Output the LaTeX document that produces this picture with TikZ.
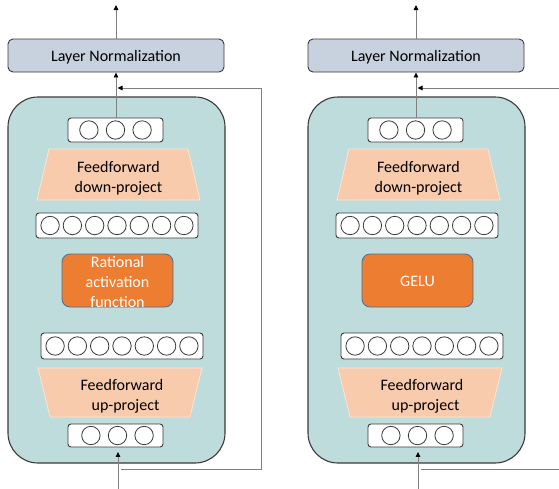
\documentclass[tikz,border=0pt]{standalone}
\usepackage{fontspec}
\setmainfont{Carlito}
\usetikzlibrary{arrows.meta}
\definecolor{panelfill}{HTML}{BFDCDC}
\definecolor{lnfill}{HTML}{C8D1DE}
\definecolor{ffill}{HTML}{F8CBAD}
\definecolor{fdraw}{HTML}{FBE5D6}
\definecolor{actfill}{HTML}{ED7D31}
\definecolor{actdraw}{HTML}{41719C}
\definecolor{linegray}{HTML}{7F7F7F}
\definecolor{boxdraw}{HTML}{3A3A3A}
\tikzset{
  panelbox/.style={draw=boxdraw, line width=1.1pt, fill=panelfill, rounded corners=30pt, minimum width=217pt, minimum height=366pt, inner sep=0pt},
  lnbox/.style={draw=boxdraw, line width=0.9pt, fill=lnfill, rounded corners=5pt, minimum width=216pt, minimum height=33pt, inner sep=0pt},
  cellbox/.style={draw=boxdraw, line width=0.9pt, fill=white, rounded corners=3pt, inner sep=0pt},
  actbox/.style={draw=actdraw, line width=0.8pt, fill=actfill, rounded corners=8pt, minimum width=111pt, minimum height=53pt, inner sep=0pt},
  trap/.style={fill=ffill, draw=fdraw, line width=0.8pt},
  cell/.style={draw=boxdraw, line width=0.8pt, fill=white},
  conn/.style={draw=linegray, line width=0.9pt, -{Triangle[length=5pt,width=4.5pt,black]}},
  txt/.style={align=center, inner sep=0pt, text=black},
  wtxt/.style={align=center, inner sep=0pt, text=white},
}
\newcommand\adapterpanel[3]{%
\begin{scope}[shift={(#2,0)}]
  \node[panelbox] (#1body) at (116.5,280) {};
  \node[lnbox] (#1ln) at (116,55.5) {};
  \node[txt] (#1lntext) at (116,57) {Layer Normalization};
  % top 3 cells
  \node[cellbox, minimum width=95pt, minimum height=24pt] (#1top3) at (115.5,130) {};
  \foreach \k in {-1,0,1} \draw[cell] (115.5+26.6*\k,130) circle (9.2pt);
  % down-project
  \path[trap] (49,149) -- (188,149) -- (200,200) -- (37,200) -- cycle;
  \node[txt] (#1down) at (118.5,178) {Feedforward\\down-project};
  % upper 7 cells
  \node[cellbox, minimum width=162pt, minimum height=25pt] (#1mid7a) at (117,225.5) {};
  \foreach \k in {-3,...,3} \draw[cell] (117+22.3*\k,225.5) circle (9.2pt);
  % activation
  \node[actbox] (#1act) at (117.5,280.5) {};
  \node[wtxt] (#1acttext) at (117.5,281.5) {#3};
  % lower 7 cells
  \node[cellbox, minimum width=162pt, minimum height=26pt] (#1mid7b) at (122,346) {};
  \foreach \k in {-3,...,3} \draw[cell] (122+22.3*\k,346) circle (9.2pt);
  % up-project
  \path[trap] (38,368) -- (202,368) -- (190,417) -- (50,417) -- cycle;
  \node[txt] (#1up) at (122,396) {Feedforward\\\hspace*{7pt}up-project};
  % bottom 3 cells
  \node[cellbox, minimum width=95pt, minimum height=23pt] (#1bot3) at (115.5,435.5) {};
  \foreach \k in {-1,0,1} \draw[cell] (117.5+26.6*\k,435.5) circle (9.2pt);
  % connectors
  \coordinate (#1out) at (116,5);
  \coordinate (#1in) at (118,490);
  \coordinate (#1join) at (116,88);
  \coordinate (#1rs) at (121,469);
  \draw[conn] (#1ln.north -| #1out) -- (#1out);
  \draw[conn] (#1top3.north -| #1out) -- (#1ln.south -| #1out);
  \draw[conn, shorten >=4.5pt] (#1in) -- (#1in |- #1bot3.south);
  \draw[conn, shorten >=1.5pt] (#1rs) -- ++(140,0) |- (#1join);
\end{scope}}
\begin{document}
\begin{tikzpicture}[x=1pt, y=-1pt, font=\fontsize{16}{20}\selectfont]
\useasboundingbox (0,0) rectangle (559,488);
\clip (0,0) rectangle (559,488);
\adapterpanel{L}{0}{Rational\\activation\\function}
\adapterpanel{R}{300}{GELU}
\end{tikzpicture}
\end{document}
